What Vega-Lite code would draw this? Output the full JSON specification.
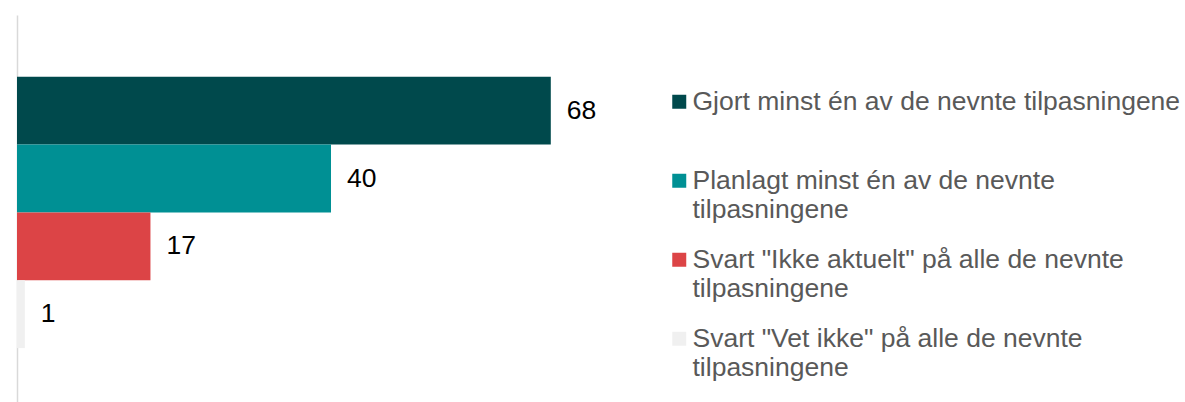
{
  "$schema": "https://vega.github.io/schema/vega-lite/v6.json",
  "width": 628,
  "height": 387,
  "padding": {"left": 17, "top": 15, "right": 0, "bottom": 0},
  "background": "#ffffff",
  "data": {
    "values": [
      {"kategori": "Gjort minst én av de nevnte tilpasningene", "andel": 68},
      {"kategori": "Planlagt minst én av de nevnte tilpasningene", "andel": 40},
      {"kategori": "Svart \"Ikke aktuelt\" på alle de nevnte tilpasningene", "andel": 17},
      {"kategori": "Svart \"Vet ikke\" på alle de nevnte tilpasningene", "andel": 1}
    ]
  },
  "encoding": {
    "y": {
      "field": "kategori",
      "type": "nominal",
      "sort": null,
      "scale": {"paddingInner": 0, "paddingOuter": 0.853, "align": 0.534},
      "axis": {"title": null, "labels": false, "ticks": false, "grid": false, "domainColor": "#d9d9d9", "domainWidth": 1.5}
    },
    "x": {
      "field": "andel",
      "type": "quantitative",
      "scale": {"domain": [0, 80]},
      "axis": null
    }
  },
  "layer": [
    {
      "mark": {"type": "bar"},
      "encoding": {
        "color": {
          "field": "kategori",
          "type": "nominal",
          "sort": null,
          "scale": {
            "domain": [
              "Gjort minst én av de nevnte tilpasningene",
              "Planlagt minst én av de nevnte tilpasningene",
              "Svart \"Ikke aktuelt\" på alle de nevnte tilpasningene",
              "Svart \"Vet ikke\" på alle de nevnte tilpasningene"
            ],
            "range": ["#00494c", "#009094", "#dc4446", "#f0f0f0"]
          },
          "legend": {
            "title": null,
            "orient": "none",
            "legendX": 649,
            "legendY": 73.5,
            "padding": 0,
            "symbolType": "square",
            "symbolSize": 196,
            "symbolStrokeWidth": 0,
            "labelFont": "Liberation Sans",
            "labelFontSize": 26.5,
            "labelColor": "#595959",
            "labelLimit": 0,
            "labelOffset": 0,
            "rowPadding": 23,
            "labelExpr": "substring(datum.label, 0, 5) == 'Gjort' ? [datum.label, ''] : [substring(datum.label, 0, length(datum.label) - 14), 'tilpasningene']",
            "encode": {"labels": {"update": {"lineHeight": {"value": 29}}}}
          }
        }
      }
    },
    {
      "mark": {"type": "text", "align": "left", "baseline": "middle", "dx": 16, "font": "Liberation Sans", "fontSize": 26.5, "color": "#000000"},
      "encoding": {"text": {"field": "andel", "type": "quantitative"}}
    }
  ],
  "config": {"view": {"stroke": null}}
}
